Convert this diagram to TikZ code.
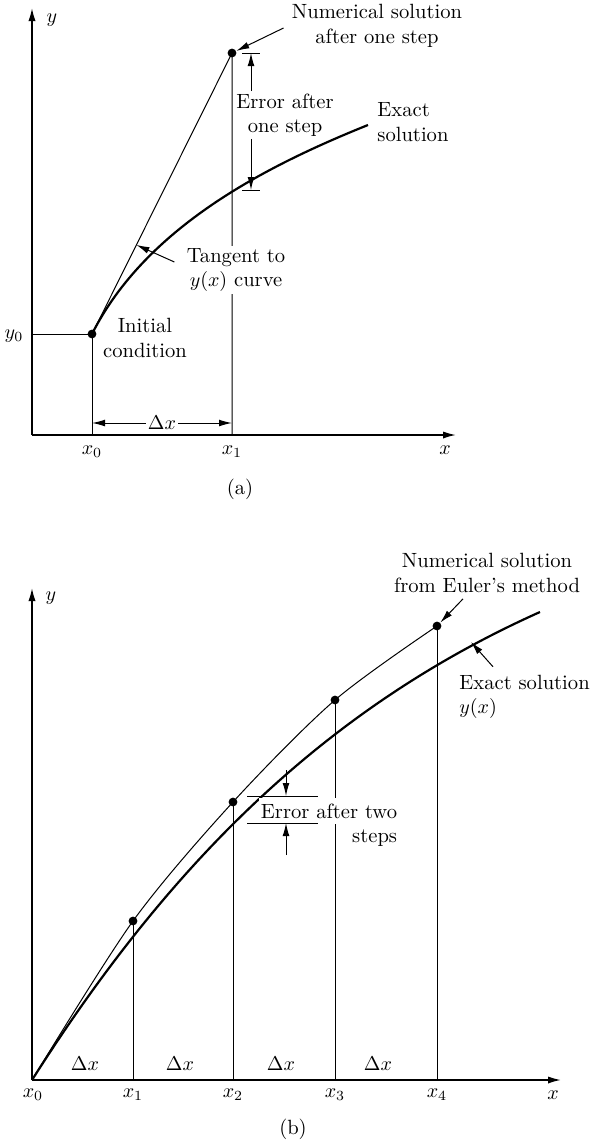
\documentclass[tikz,border=0pt]{standalone}
\usetikzlibrary{arrows.meta,calc}
\tikzset{
  axis/.style={-{Latex[length=6.5pt,width=3.6pt]},line width=.8pt},
  guide/.style={line width=.5pt},
  exact/.style={line width=1.1pt},
  lead/.style={-{Latex[length=6.5pt,width=3.4pt]},line width=.5pt},
  dim/.style={{Latex[length=6.5pt,width=3.4pt]}-{Latex[length=6.5pt,width=3.4pt]},line width=.5pt},
  dot/.style={circle,fill,inner sep=0pt,minimum size=4.4pt},
  note/.style={font=\fontsize{10.3}{12.2}\selectfont,align=center,inner sep=1pt},
  lbl/.style={font=\fontsize{10.3}{12.2}\selectfont,inner sep=1pt},
}
\begin{document}
\begin{tikzpicture}[x=.5pt,y=-.5pt]
  \useasboundingbox (0,0) rectangle (591,1142);
  % (a) a single Euler step
  \coordinate (aO) at (32,435);
  \coordinate (aYtip) at (32,8);
  \coordinate (aXtip) at (456,435);
  \draw[axis] (aO) -- (aYtip);
  \draw[axis] (aO) -- (aXtip);
  \node[dot] (a0) at (92,334) {};
  \node[dot] (a1) at (232,53) {};
  \coordinate (ay0) at (32,334);
  \coordinate (ax0) at (92,435);
  \coordinate (ax1) at (232,435);
  \coordinate (aEnd) at (368,125);
  \draw[guide] (ay0) -- (a0.center) -- (ax0);
  \draw[guide] (a0.center) -- (a1.center) -- (ax1);
  \draw[exact] (a0.center) .. controls (146,227) and (266,166) .. (aEnd);
  \draw[dim] ([yshift=6pt]ax0) -- node[lbl,fill=white] (adx) {$\Delta x$} ([yshift=6pt]ax1);
  \node[lbl] (ay) at (52,20) {$y$};
  \node[lbl] (ax) at (445,450) {$x$};
  \node[lbl] (ay0l) at (14,336) {$y_0$};
  \node[lbl] (ax0l) at (92,452) {$x_0$};
  \node[lbl] (ax1l) at (232,452) {$x_1$};
  \node[lbl] (acap) at (240,489) {(a)};
  \node[note] (init) at (145,338) {Initial\\condition};
  \node[note,fill=white] (tan) at (236,270) {Tangent to\\$y(x)$ curve};
  \draw[lead] ([xshift=-5pt,yshift=4pt]tan.west) -- ($(a0.center)!.317!(a1.center)$);
  \node[note] (numA) at (377,26) {Numerical solution\\after one step};
  \draw[lead] ([xshift=-3pt,yshift=-1pt]numA.west) -- (a1);
  \node[note,align=left,anchor=west] (exA) at (375,122) {Exact\\solution};
  \coordinate (eTop) at (251,53);
  \coordinate (eBot) at (251,190);
  \draw[guide] ([xshift=-4.5pt]eTop) -- ([xshift=4.5pt]eTop);
  \draw[guide] ([xshift=-4.5pt]eBot) -- ([xshift=4.5pt]eBot);
  \node[note] (errA) at (285,115) {Error after\\one step};
  \draw[lead] (eTop |- errA.north) -- (eTop);
  \draw[lead] (eBot |- errA.south) -- (eBot);
  % (b) four Euler steps
  \coordinate (bO) at (32,1080);
  \coordinate (bYtip) at (32,588);
  \coordinate (bXtip) at (561,1080);
  \coordinate (bEnd) at (540,612);
  \draw[axis] (bO) -- (bYtip);
  \draw[axis] (bO) -- (bXtip);
  \foreach \i/\x/\y in {1/133/921,2/233/802,3/335/700,4/437/626} {
    \node[dot] (p\i) at (\x,\y) {};
    \coordinate (f\i) at (\x,1080);
  }
  \draw[guide] plot[smooth] coordinates {(bO) (p1.center) (p2.center) (p3.center) (p4.center)};
  \draw[exact] (bO) .. controls (166,869) and (321,710) .. (bEnd);
  \foreach \i in {1,2,3,4} \draw[guide] (p\i.center) -- (f\i);
  \node[lbl,fill=white,inner ysep=3pt] (errB) at (329,811) {Error after two};
  \node[lbl,anchor=east] (errC) at ([yshift=-13.5pt]errB.east) {steps};
  \coordinate (eb1) at (286,796);
  \coordinate (eb2) at (286,823);
  \draw[guide] ([xshift=-19.5pt]eb1) -- ([xshift=16pt]eb1);
  \draw[guide] ([xshift=-19.5pt]eb2) -- ([xshift=16pt]eb2);
  \draw[lead] ([yshift=13pt]eb1) -- (eb1);
  \draw[lead] ([yshift=-16pt]eb2) -- (eb2);
  \node[note] (numB) at (487,573) {Numerical solution\\from Euler's method};
  \draw[lead] ([xshift=-12pt,yshift=-2pt]numB.south) -- (p4);
  \node[note,align=left,anchor=west] (exB) at (457,697) {Exact solution\\$y(x)$};
  \coordinate (hitB) at (471,642);
  \draw[lead] ([xshift=18pt,yshift=3pt]exB.north west) -- (hitB);
  \foreach \i/\x in {0/33,1/133,2/233,3/335,4/437}
    \node[lbl] (bx\i) at (\x,1095) {$x_{\i}$};
  \foreach \x [count=\i] in {85,180,281,378}
    \node[lbl] (bdx\i) at (\x,1064) {$\Delta x$};
  \node[lbl] (by) at (51,598) {$y$};
  \node[lbl] (bx) at (553,1095) {$x$};
  \node[lbl] (bcap) at (293,1129) {(b)};
\end{tikzpicture}
\end{document}
